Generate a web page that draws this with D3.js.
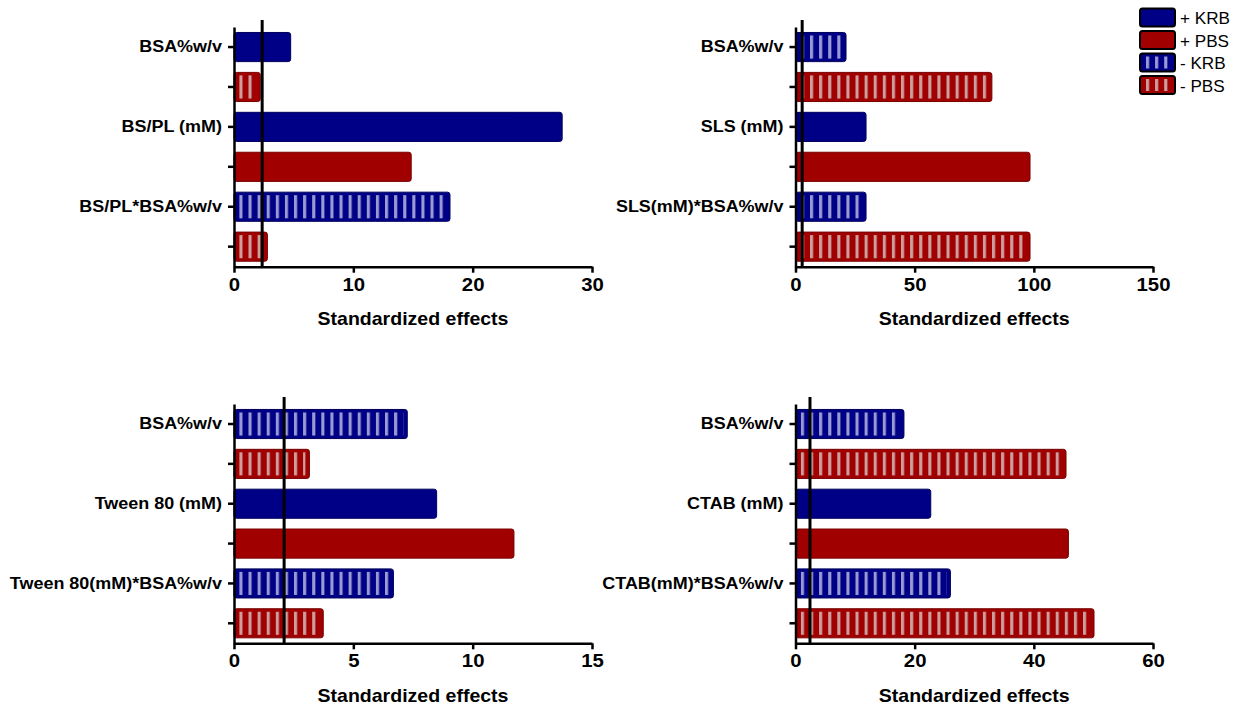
<!DOCTYPE html>
<html>
<head>
<meta charset="utf-8">
<script src="https://cdn.jsdelivr.net/npm/d3@7/dist/d3.min.js"></script>
<style>
  html, body { margin: 0; padding: 0; background: #fff; }
  svg { display: block; }
  text { font-family: "Liberation Sans", Arial, sans-serif; fill: #000; }
</style>
</head>
<body>
<svg id="chart" width="1249" height="714"></svg>
<script>
// ---- data ----
const seriesNames = ["+ KRB", "+ PBS", "- KRB", "- PBS"];

const tlCategories = ["BSA%w/v", "", "BS/PL (mM)", "", "BS/PL*BSA%w/v", ""];
const tlValues = [4.75, 2.2, 27.5, 14.85, 18.1, 2.8];
const tlSeries = ["+ KRB", "- PBS", "+ KRB", "+ PBS", "- KRB", "- PBS"];
const tlTicks = [0, 10, 20, 30];
const tlThreshold = 2.36;

const trCategories = ["BSA%w/v", "", "SLS (mM)", "", "SLS(mM)*BSA%w/v", ""];
const trValues = [21.2, 82.4, 29.6, 98.4, 29.6, 98.4];
const trSeries = ["- KRB", "- PBS", "+ KRB", "+ PBS", "- KRB", "- PBS"];
const trTicks = [0, 50, 100, 150];
const trThreshold = 2.8;

const blCategories = ["BSA%w/v", "", "Tween 80 (mM)", "", "Tween 80(mM)*BSA%w/v", ""];
const blValues = [7.26, 3.16, 8.49, 11.73, 6.68, 3.74];
const blSeries = ["- KRB", "- PBS", "+ KRB", "+ PBS", "- KRB", "- PBS"];
const blTicks = [0, 5, 10, 15];
const blThreshold = 2.1;

const brCategories = ["BSA%w/v", "", "CTAB (mM)", "", "CTAB(mM)*BSA%w/v", ""];
const brValues = [18.2, 45.4, 22.7, 45.8, 26.0, 50.1];
const brSeries = ["- KRB", "- PBS", "+ KRB", "+ PBS", "- KRB", "- PBS"];
const brTicks = [0, 20, 40, 60];
const brThreshold = 2.43;

const axisTitle = "Standardized effects";

// ---- styles ----
const style = {
  "+ KRB": { fill: "#000086", stroke: "#00005c", striped: false, stripe: "#9a9ad2" },
  "+ PBS": { fill: "#a00000", stroke: "#780000", striped: false, stripe: "#cc9e9e" },
  "- KRB": { fill: "#000086", stroke: "#00005c", striped: true, stripe: "#9a9ad2" },
  "- PBS": { fill: "#a00000", stroke: "#780000", striped: true, stripe: "#cc9e9e" }
};

const svg = d3.select("#chart");
const defs = svg.append("defs");
const STRIPE_PERIOD = 9.1, STRIPE_W = 3.1;

function stripePattern(id, base, stripe, originX) {
  const p = defs.append("pattern")
    .attr("id", id)
    .attr("patternUnits", "userSpaceOnUse")
    .attr("x", originX).attr("y", 0)
    .attr("width", STRIPE_PERIOD).attr("height", 20);
  p.append("rect").attr("width", STRIPE_PERIOD).attr("height", 20).attr("fill", base);
  p.append("rect").attr("x", 0).attr("width", STRIPE_W).attr("height", 20).attr("fill", stripe);
}

function stretchText(sel, sx) {
  sel.each(function () {
    const t = d3.select(this);
    const x = +t.attr("x") || 0;
    t.attr("transform", `translate(${x},0) scale(${sx},1)`).attr("x", 0);
  });
}

function drawPanel(id, cfg) {
  const { categories, values, series, ticks, threshold, x0, x1, y0, y1 } = cfg;
  const g = svg.append("g").attr("class", "panel " + id);

  const x = d3.scaleLinear().domain([ticks[0], ticks[ticks.length - 1]]).range([x0, x1]);
  const y = d3.scaleBand().domain(d3.range(categories.length))
    .range([y0, y1]).paddingInner(0.27).paddingOuter(0.137);

  // stripe patterns anchored to this panel's zero line
  ["KRB", "PBS"].forEach(k => {
    const s = style["- " + k];
    stripePattern(`stripe-${id}-${k}`, s.fill, s.stripe, x(0) + 5.4);
  });

  const bars = g.append("g").selectAll("g.bar")
    .data(values.map((v, i) => ({ v, i, s: series[i] })))
    .join("g").attr("class", "bar");

  bars.append("rect")
    .attr("x", x(0))
    .attr("y", d => y(d.i))
    .attr("width", d => x(d.v) - x(0))
    .attr("height", y.bandwidth())
    .attr("rx", 2.5)
    .attr("fill", d => style[d.s].fill)
    .attr("stroke", d => style[d.s].stroke)
    .attr("stroke-width", 1);

  bars.filter(d => style[d.s].striped)
    .append("rect")
    .attr("x", x(0) + 1)
    .attr("y", d => y(d.i) + 3)
    .attr("width", d => Math.max(0, x(d.v) - x(0) - 5))
    .attr("height", y.bandwidth() - 6)
    .attr("fill", d => `url(#stripe-${id}-${d.s.slice(2)})`);

  // y axis with category labels
  const yAxis = g.append("g")
    .attr("transform", `translate(${x(0)},0)`)
    .call(d3.axisLeft(y).tickSize(6).tickSizeOuter(0).tickPadding(6)
      .tickFormat(i => categories[i]));
  yAxis.selectAll("path, line").attr("stroke", "#000").attr("stroke-width", 2.5);
  yAxis.selectAll("text")
    .attr("font-size", 16.8).attr("font-weight", "bold")
    .attr("font-family", "'Liberation Sans', Arial, sans-serif").attr("fill", "#000");
  stretchText(yAxis.selectAll("text"), 1.07);

  // x axis
  const xAxis = g.append("g")
    .attr("transform", `translate(0,${y1})`)
    .call(d3.axisBottom(x).tickValues(ticks).tickSize(6).tickSizeOuter(0).tickPadding(5));
  xAxis.selectAll("path, line").attr("stroke", "#000").attr("stroke-width", 2.5);
  xAxis.selectAll("text")
    .attr("font-size", 18.5).attr("font-weight", "bold")
    .attr("font-family", "'Liberation Sans', Arial, sans-serif").attr("fill", "#000");
  stretchText(xAxis.selectAll("text"), 1.1);

  // significance line
  g.append("line")
    .attr("x1", x(threshold)).attr("x2", x(threshold))
    .attr("y1", y0 - 7).attr("y2", y1)
    .attr("stroke", "#000").attr("stroke-width", 3);

  // axis title
  g.append("text")
    .attr("transform", `translate(${(x0 + x1) / 2},${y1 + 58.5}) scale(1.05,1)`)
    .attr("text-anchor", "middle")
    .attr("font-size", 18.6).attr("font-weight", "bold")
    .text(axisTitle);
}

const L = { x0: 234, x1: 592 }, R = { x0: 795.5, x1: 1153 };
const T = { y0: 27, y1: 266.7 }, B = { y0: 404, y1: 643.3 };

drawPanel("tl", { categories: tlCategories, values: tlValues, series: tlSeries, ticks: tlTicks, threshold: tlThreshold, ...L, ...T });
drawPanel("tr", { categories: trCategories, values: trValues, series: trSeries, ticks: trTicks, threshold: trThreshold, ...R, ...T });
drawPanel("bl", { categories: blCategories, values: blValues, series: blSeries, ticks: blTicks, threshold: blThreshold, ...L, ...B });
drawPanel("br", { categories: brCategories, values: brValues, series: brSeries, ticks: brTicks, threshold: brThreshold, ...R, ...B });

// ---- legend ----
["KRB", "PBS"].forEach(k => {
  const s = style["- " + k];
  stripePattern(`stripe-legend-${k}`, s.fill, s.stripe, 1140 + 6);
});
const legend = svg.append("g").attr("class", "legend");
const item = legend.selectAll("g")
  .data(seriesNames)
  .join("g")
  .attr("transform", (d, i) => `translate(0,${8.5 + i * 22.5})`);
item.append("rect")
  .attr("x", 1140).attr("y", 0).attr("width", 35).attr("height", 18).attr("rx", 2.5)
  .attr("fill", d => style[d].fill)
  .attr("stroke", "#000").attr("stroke-width", 2);
item.filter(d => style[d].striped).append("rect")
  .attr("x", 1142).attr("y", 3).attr("width", 30).attr("height", 12)
  .attr("fill", d => `url(#stripe-legend-${d.slice(2)})`);
item.append("text")
  .attr("transform", "translate(1180,15.5) scale(1.05,1)")
  .attr("font-size", 16.3)
  .text(d => d);
</script>
</body>
</html>
